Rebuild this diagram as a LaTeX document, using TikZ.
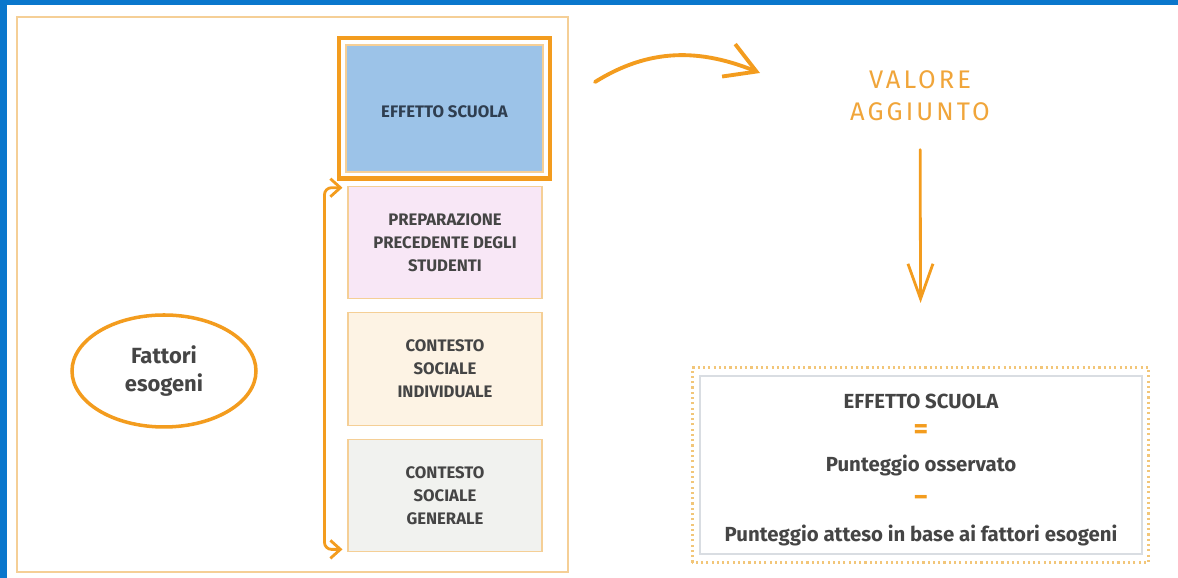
\documentclass[tikz,border=0pt]{standalone}
\usepackage{fontspec}
\setmainfont{Fira Sans}
\usetikzlibrary{arrows.meta,positioning,shapes.geometric}

\definecolor{frameblue}{HTML}{0A77CC}
\definecolor{arrorange}{HTML}{F39C1E}
\definecolor{paleorange}{HTML}{F5CF96}
\definecolor{dotorange}{HTML}{F2C679}
\definecolor{boxblue}{HTML}{9CC3E8}
\definecolor{boxpink}{HTML}{F8E7F6}
\definecolor{boxcream}{HTML}{FDF3E4}
\definecolor{boxgray}{HTML}{F1F2EF}
\definecolor{boxline}{HTML}{D9DDE2}
\definecolor{txtgray}{HTML}{454545}
\definecolor{txtblue}{HTML}{2F3E50}
\definecolor{valtext}{HTML}{F0A53A}

\newcommand{\opsign}[1]{\textcolor{arrorange}{\fontsize{16}{19.5}\selectfont #1}}

\begin{document}
\begin{tikzpicture}[node distance=0.26cm, auto,
    fact/.style={draw=paleorange, line width=0.6pt, minimum width=3.88cm, minimum height=2.25cm,
      align=center, font=\bfseries\fontsize{9.5}{13}\selectfont, text=txtgray},
    bigarrow/.style={draw=arrorange, line width=2.2pt, line cap=round}]
  \useasboundingbox (0,0) rectangle (23.56,11.56);
  \fill[frameblue] (0,11.46) rectangle (23.56,11.56);
  \fill[frameblue] (0,0) rectangle (0.14,11.56);
  \draw[paleorange, line width=0.7pt] (0.34,0.12) rectangle (11.36,11.22);

  % column of factors
  \node[fact, fill=boxblue, minimum width=3.94cm, minimum height=2.54cm, text=txtblue,
    text height=0.36cm, text depth=0pt] (scuola) at (8.89,9.39) {EFFETTO SCUOLA};
  \draw[arrorange, line width=2.3pt] ([shift={(-0.12,0.12)}]scuola.north west) rectangle ([shift={(0.12,-0.12)}]scuola.south east);
  \node[fact, fill=boxpink] (prep) at (8.9,6.71) {PREPARAZIONE\\PRECEDENTE DEGLI\\STUDENTI};
  \node[fact, fill=boxcream, below=of prep] (indiv) {CONTESTO\\SOCIALE\\INDIVIDUALE};
  \node[fact, fill=boxgray, below=of indiv] (gener) {CONTESTO\\SOCIALE\\GENERALE};
  \draw[bigarrow, line width=1.6pt, rounded corners=4pt, {Straight Barb[length=2mm,width=3.6mm]}-{Straight Barb[length=2mm,width=3.6mm]}]
    ([shift={(-0.1,-0.04)}]prep.north west) -- ++(-0.36,0) |- ([shift={(-0.1,0.06)}]gener.south west);

  \node[ellipse, draw=arrorange, line width=2pt, minimum width=3.68cm, minimum height=2.24cm,
    align=center, font=\bfseries\fontsize{12.5}{16}\selectfont, text=txtgray] (esog) at (3.28,4.14) {Fattori\\esogeni};

  % right side
  \coordinate (arcA) at (11.9,9.92);
  \coordinate (arcB) at (15.2,10.1);
  \draw[bigarrow, -{Straight Barb[length=6mm,width=7mm]}] (arcA) to[out=32, in=158] (arcB);

  \node[font=\fontsize{14.5}{18}\selectfont\addfontfeatures{LetterSpace=12}, text=valtext, align=center] (valore) at (18.4,9.64) {VALORE\\AGGIUNTO};

  \node[draw=boxline, line width=0.6pt, minimum width=8.84cm, minimum height=3.56cm] (formula) at (18.42,2.26) {};
  \node[align=center, font=\bfseries\fontsize{11.6}{20}\selectfont, text=txtgray] (formtext) at ([yshift=-0.1cm]formula.center)
    {EFFETTO SCUOLA\\[-2.5pt]\opsign{=}\\[-1.5pt]Punteggio osservato\\\opsign{−}\\Punteggio atteso in base ai fattori esogeni};
  \draw[dotorange, line width=1.5pt, dash pattern=on 1.2pt off 1.8pt]
    ([shift={(-0.14,-0.16)}]formula.south west) rectangle ([shift={(0.12,0.16)}]formula.north east);

  \draw[bigarrow, line width=1.6pt, -{Straight Barb[length=7mm,width=5mm]}, shorten <=0.45cm, shorten >=1.45cm] (valore) -- (formula);
\end{tikzpicture}
\end{document}
